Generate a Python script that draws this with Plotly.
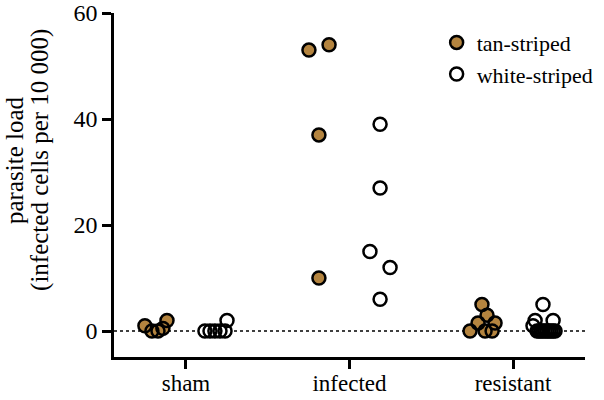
import plotly.graph_objects as go

categories = ["sham", "infected", "resistant"]

# tan-striped: group index, parasite load, horizontal jitter (category units)
tan_group = [0, 0, 0, 0, 0,
             1, 1, 1, 1,
             2, 2, 2, 2, 2, 2, 2]
tan_load = [1, 0, 0, 0.5, 2,
            53, 54, 37, 10,
            0, 1.5, 5, 3, 0, 0, 1.5]
tan_jitter = [-0.251, -0.208, -0.171, -0.141, -0.116,
              -0.248, -0.125, -0.187, -0.187,
              -0.263, -0.214, -0.190, -0.159, -0.171, -0.128, -0.110]

# white-striped
white_group = [0, 0, 0, 0, 0, 0,
               1, 1, 1, 1, 1,
               2, 2, 2, 2, 2, 2, 2, 2, 2, 2, 2, 2, 2, 2]
white_load = [0, 0, 0, 0, 0, 2,
              39, 27, 15, 12, 6,
              5, 2, 2, 1, 0, 0, 0, 0, 0, 0, 0, 0, 0, 0]
white_jitter = [0.116, 0.147, 0.177, 0.208, 0.239, 0.251,
                0.187, 0.187, 0.125, 0.248, 0.187,
                0.183, 0.135, 0.245, 0.122, 0.147, 0.159, 0.171, 0.183,
                0.196, 0.208, 0.220, 0.232, 0.245, 0.257]

y_ticks = [0, 20, 40, 60]
y_title_lines = ["parasite load", "(infected cells per 10 000)"]

TAN = "#B4843F"
MSIZE = 13
LW = 2.5
FONT = "Liberation Serif"

tan_x = [g + j for g, j in zip(tan_group, tan_jitter)]
white_x = [g + j for g, j in zip(white_group, white_jitter)]

fig = go.Figure()

series = [(tan_x, tan_load, TAN, "tan-striped"),
          (white_x, white_load, "white", "white-striped")]

# fills first, then outlines on top (as in the original rendering)
for xs, ys, fill, name in series:
    fig.add_trace(go.Scatter(x=xs, y=ys, mode="markers", showlegend=False,
                             hoverinfo="skip",
                             marker=dict(size=MSIZE, color=fill,
                                         line=dict(width=0))))

for xs, ys, fill, name in series:
    fig.add_trace(go.Scatter(x=xs, y=ys, mode="markers", showlegend=False,
                             marker=dict(size=MSIZE, color="rgba(0,0,0,0)",
                                         line=dict(width=LW, color="black"))))

for xs, ys, fill, name in series:
    fig.add_trace(go.Scatter(x=[None], y=[None], mode="markers", name=name,
                             marker=dict(size=MSIZE, color=fill,
                                         line=dict(width=LW, color="black"))))

fig.add_shape(type="line", xref="paper", yref="y", x0=0, x1=1, y0=0, y1=0,
              line=dict(color="black", width=1.5, dash="dot"), layer="below")

# two-line y-axis title
for i, line in enumerate(y_title_lines):
    fig.add_annotation(text=line, xref="paper", yref="paper",
                       x=-0.21 + i * 0.053, y=0.573, textangle=-90,
                       xanchor="center", yanchor="middle", showarrow=False,
                       font=dict(family=FONT, size=25, color="black"))

fig.update_layout(
    width=604, height=400,
    margin=dict(l=114, r=19, t=13, b=43, autoexpand=False),
    paper_bgcolor="white", plot_bgcolor="white",
    font=dict(family=FONT, size=24, color="black"),
    legend=dict(x=0.685, y=0.975, xanchor="left", yanchor="top",
                font=dict(family=FONT, size=22), itemwidth=30,
                tracegroupgap=0, bgcolor="rgba(0,0,0,0)"),
    xaxis=dict(range=[-0.44, 2.44], tickmode="array",
               tickvals=[0, 1, 2], ticktext=categories, automargin=False,
               showgrid=False, zeroline=False, showline=True,
               linecolor="black", linewidth=2.5,
               ticks="outside", ticklen=9, tickwidth=2.5, tickcolor="black",
               ticklabelstandoff=-5,
               tickfont=dict(family=FONT, size=23)),
    yaxis=dict(range=[-4.9, 60], tickmode="array", tickvals=y_ticks,
               automargin=False,
               showgrid=False, zeroline=False, showline=True,
               linecolor="black", linewidth=2.5,
               ticks="outside", ticklen=9, tickwidth=2.5, tickcolor="black",
               tickfont=dict(family=FONT, size=24)),
)

fig.write_html("out.html", config={"displayModeBar": False},
               post_script="document.body.style.margin='0';")
